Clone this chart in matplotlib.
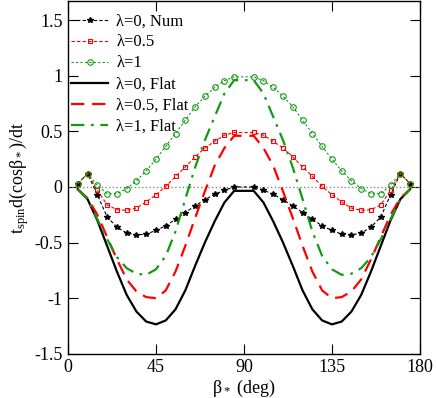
import matplotlib.pyplot as plt

plt.rcParams['font.family'] = ['Liberation Serif', 'DejaVu Serif']
plt.rcParams['mathtext.fontset'] = 'custom'
plt.rcParams['mathtext.rm'] = 'Liberation Serif'
plt.rcParams['mathtext.it'] = 'Liberation Serif:italic'

# angles (deg), 90 is missing in the data
beta = [5, 10, 15, 20, 25, 30, 35, 40, 45, 50, 55, 60, 65, 70, 75, 80, 85,
        95, 100, 105, 110, 115, 120, 125, 130, 135, 140, 145, 150, 155, 160, 165, 170, 175]

# numerical results
num_l0 = [0.03, 0.12, -0.07, -0.27, -0.36, -0.415, -0.43, -0.425, -0.39, -0.35, -0.29, -0.23,
          -0.17, -0.115, -0.065, -0.03, 0.0,
          0.0, -0.03, -0.065, -0.115, -0.17, -0.23, -0.29, -0.35, -0.39, -0.425, -0.43,
          -0.415, -0.36, -0.27, -0.07, 0.12, 0.03]
num_l05 = [0.03, 0.12, -0.03, -0.16, -0.205, -0.21, -0.19, -0.135, -0.07, 0.005, 0.095, 0.18,
           0.27, 0.35, 0.41, 0.465, 0.49,
           0.49, 0.465, 0.41, 0.35, 0.27, 0.18, 0.095, 0.005, -0.07, -0.135, -0.19,
           -0.21, -0.205, -0.16, -0.03, 0.12, 0.03]
num_l1 = [0.03, 0.12, 0.015, -0.06, -0.06, -0.015, 0.055, 0.145, 0.25, 0.365, 0.48, 0.6,
          0.72, 0.815, 0.895, 0.955, 0.99,
          0.99, 0.955, 0.895, 0.815, 0.72, 0.6, 0.48, 0.365, 0.25, 0.145, 0.055,
          -0.015, -0.06, -0.06, 0.015, 0.12, 0.03]

# flat approximation
flat_l0 = [-0.02, -0.11, -0.3, -0.53, -0.76, -0.97, -1.12, -1.21, -1.235, -1.2, -1.1, -0.93,
           -0.71, -0.5, -0.31, -0.14, -0.035,
           -0.035, -0.14, -0.31, -0.5, -0.71, -0.93, -1.1, -1.2, -1.235, -1.21, -1.12,
           -0.97, -0.76, -0.53, -0.3, -0.11, -0.02]
flat_l05 = [-0.02, -0.1, -0.25, -0.45, -0.65, -0.83, -0.94, -0.99, -1.0, -0.93, -0.76, -0.53,
            -0.28, -0.04, 0.19, 0.35, 0.46,
            0.46, 0.35, 0.19, -0.04, -0.28, -0.53, -0.76, -0.93, -1.0, -0.99, -0.94,
            -0.83, -0.65, -0.45, -0.25, -0.1, -0.02]
flat_l1 = [-0.02, -0.11, -0.29, -0.47, -0.63, -0.73, -0.78, -0.79, -0.74, -0.62, -0.4, -0.11,
           0.175, 0.42, 0.63, 0.84, 0.96,
           0.96, 0.84, 0.63, 0.42, 0.175, -0.11, -0.4, -0.62, -0.74, -0.79, -0.78,
           -0.73, -0.63, -0.47, -0.29, -0.11, -0.02]

xticks = [0, 45, 90, 135, 180]
yticks = [-1.5, -1, -0.5, 0, 0.5, 1, 1.5]
ytick_labels = ['-1.5', '-1', '-0.5', '0', '0.5', '1', '1.5']

fig = plt.figure(figsize=(4.36, 3.98), dpi=100)
ax = fig.add_axes([0.156, 0.111, 0.807, 0.886])

ax.axhline(0, color='#888888', linestyle=':', linewidth=1.0)

ax.plot(beta, num_l0, color='black', linestyle=(0, (3, 2)), linewidth=0.8,
        marker='*', markersize=4, label='λ=0, Num')
ax.plot(beta, num_l05, color='red', linestyle=(0, (3, 2)), linewidth=0.8,
        marker='s', markersize=3.5, markerfacecolor='none', markeredgewidth=0.8,
        label='λ=0.5')
ax.plot(beta, num_l1, color='#139a13', linestyle=(0, (2, 2)), linewidth=0.8,
        marker='o', markersize=4, markerfacecolor='none', markeredgewidth=0.8,
        label='λ=1')
ax.plot(beta, flat_l0, color='black', linestyle='-', linewidth=1.6, label='λ=0, Flat')
ax.plot(beta, flat_l05, color='red', linestyle=(0, (6, 3.5)), linewidth=1.6,
        label='λ=0.5, Flat')
ax.plot(beta, flat_l1, color='#139a13', linestyle=(0, (6, 3, 1.2, 3)), linewidth=1.6,
        label='λ=1, Flat')

ax.set_xlim(0, 180)
ax.set_ylim(-1.5, 1.67)
ax.set_xticks(xticks)
ax.set_xticklabels([str(t) for t in xticks])
ax.set_yticks(yticks)
ax.set_yticklabels(ytick_labels)
ax.tick_params(direction='in', length=7, width=0.8, top=True, right=True,
               labelsize=13, pad=4)
for s in ax.spines.values():
    s.set_linewidth(1.0)

ax.set_xlabel(r'$\mathregular{β_*}$ (deg)', fontsize=13, labelpad=1)
ax.set_ylabel(r'$\mathregular{t_{spin}d(cosβ_*)/dt}$', fontsize=13, labelpad=2)

ax.legend(loc='upper left', bbox_to_anchor=(0.0, 0.975), frameon=False, fontsize=12,
          handlelength=2.2, handletextpad=0.5, labelspacing=0.3, borderpad=0.2,
          borderaxespad=0.0)

fig.savefig('out.png', dpi=100)
